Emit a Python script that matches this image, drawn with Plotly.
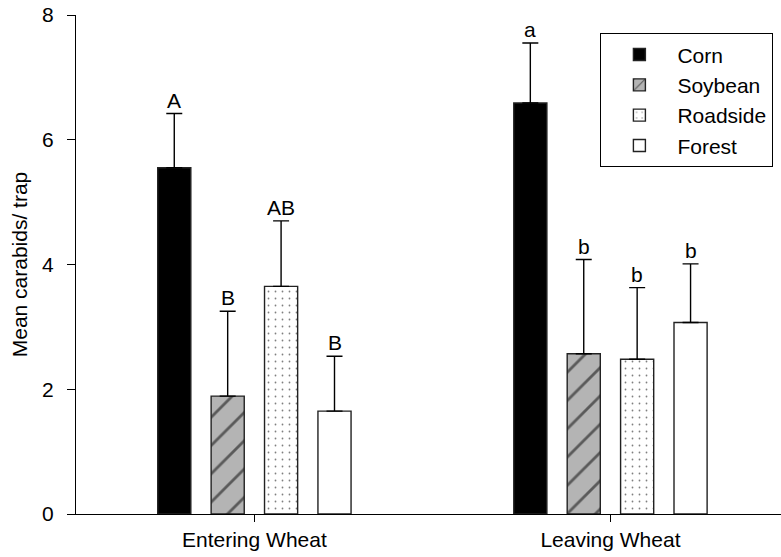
import plotly.graph_objects as go

groups = ["Entering Wheat", "Leaving Wheat"]
series = ["Corn", "Soybean", "Roadside", "Forest"]
means = {
    "Corn": [5.55, 6.59],
    "Soybean": [1.89, 2.57],
    "Roadside": [3.65, 2.48],
    "Forest": [1.65, 3.07],
}
errors = {
    "Corn": [0.87, 0.96],
    "Soybean": [1.36, 1.51],
    "Roadside": [1.05, 1.15],
    "Forest": [0.88, 0.94],
}
letters = {
    "Corn": ["A", "a"],
    "Soybean": ["B", "b"],
    "Roadside": ["AB", "b"],
    "Forest": ["B", "b"],
}
y_ticks = [0, 2, 4, 6, 8]

FONT = "Arial, Liberation Sans, sans-serif"
FS = 21
slot = 0.150
width = 0.093

styles = {
    "Corn": dict(color="#000000", pattern=None),
    "Soybean": dict(color="#b4b4b4", pattern=dict(shape="/", fgcolor="#000000", bgcolor="#b4b4b4", size=20, solidity=0.14, fillmode="overlay")),
    "Roadside": dict(color="#ffffff", pattern=dict(shape=".", fgcolor="#000000", bgcolor="#ffffff", size=7, solidity=0.05, fillmode="overlay")),
    "Forest": dict(color="#ffffff", pattern=None),
}

fig = go.Figure()
annotations = []
for i, s in enumerate(series):
    xs = [g + (i - 1.5) * slot for g in range(len(groups))]
    marker = dict(color=styles[s]["color"], line=dict(color="#222222", width=1.4))
    if styles[s]["pattern"] is not None:
        marker["pattern"] = styles[s]["pattern"]
    fig.add_trace(go.Bar(
        x=xs, y=means[s], width=width, name=s, marker=marker,
        error_y=dict(type="data", array=errors[s], arrayminus=[0] * len(groups),
                     symmetric=False, color="#000000", thickness=1.4, width=8),
    ))
    for x, m, e, lab in zip(xs, means[s], errors[s], letters[s]):
        annotations.append(dict(x=x, y=m + e, text=lab, showarrow=False,
                                yanchor="bottom", yshift=0,
                                font=dict(family=FONT, size=FS, color="#000000")))

fig.update_layout(
    width=781, height=557,
    margin=dict(l=76, r=0, t=15, b=43),
    paper_bgcolor="white", plot_bgcolor="white",
    barmode="overlay",
    font=dict(family=FONT, size=FS, color="#000000"),
    showlegend=True,
    legend=dict(x=(600 - 76) / 705, y=(514 - 33) / 499, xanchor="left", yanchor="top",
                bgcolor="white", bordercolor="#000000", borderwidth=1.4,
                font=dict(family=FONT, size=FS), itemwidth=66),
    annotations=annotations,
)
fig.update_xaxes(
    range=[-0.501, 1.479], tickvals=list(range(len(groups))), ticktext=groups,
    showline=True, linecolor="#000000", linewidth=1.4, ticks="outside",
    ticklen=7, tickcolor="#000000", tickwidth=1.4, showgrid=False, zeroline=False,
    tickfont=dict(family=FONT, size=FS), automargin=False,
)
fig.update_yaxes(
    range=[0, 8], tickvals=y_ticks, showline=True, linecolor="#000000",
    linewidth=1.4, ticks="outside", ticklen=8, tickcolor="#000000", tickwidth=1.4,
    showgrid=False, zeroline=False, ticklabelstandoff=9, automargin=False,
    tickfont=dict(family=FONT, size=FS),
    title=dict(text="Mean carabids/ trap", font=dict(family=FONT, size=FS), standoff=8),
)

fig.write_html("out.html", config={"displayModeBar": False},
               post_script="document.body.style.margin='0';document.body.style.overflow='hidden';")
